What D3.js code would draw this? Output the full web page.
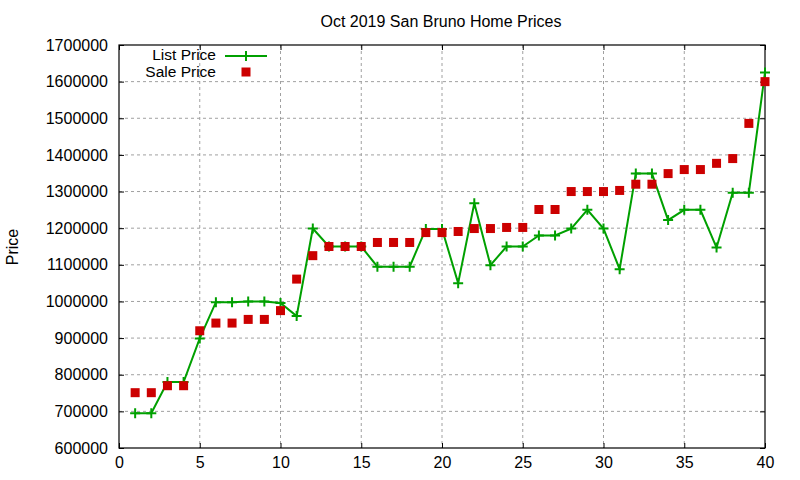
<!DOCTYPE html>
<html>
<head>
<meta charset="utf-8">
<script src="https://cdn.jsdelivr.net/npm/d3@7"></script>
<style>
  body { margin: 0; background: #fff; }
  svg text { font-family: "Liberation Sans", Arial, sans-serif; fill: #000; }
</style>
</head>
<body>
<div id="chart"></div>
<script>
const listColor = '#00a000';
const saleColor = '#cc0000';

// home index 1..40
const homeIndex = d3.range(1, 41);
const listPrice = [
    695000, 695000, 780000, 780000, 899000, 998000, 998000, 1000000, 1000000, 996000,
    960000, 1199000, 1150000, 1150000, 1150000, 1095000, 1095000, 1095000, 1198000, 1198000,
    1050000, 1268000, 1099000, 1150000, 1150000, 1180000, 1180000, 1199000, 1250000, 1199000,
    1088000, 1349000, 1349000, 1222000, 1250000, 1250000, 1147000, 1297000, 1297000, 1625000
];
const salePrice = [
    751000, 751000, 770000, 770000, 920000, 941000, 941000, 951000, 951000, 975000,
    1061000, 1125000, 1150000, 1150000, 1150000, 1161000, 1161000, 1161000, 1188000, 1188000,
    1191000, 1199000, 1199000, 1202000, 1202000, 1251000, 1251000, 1300000, 1300000, 1300000,
    1303000, 1320000, 1320000, 1349000, 1360000, 1360000, 1377000, 1390000, 1486000, 1600000
];
const xTicks = [0, 5, 10, 15, 20, 25, 30, 35, 40];
const yTicks = d3.range(600000, 1700001, 100000);

function drawChart() {
    const W = 800, H = 480;
    const margin = {top: 45, right: 35, bottom: 32, left: 119};
    const width = W - margin.left - margin.right;
    const height = H - margin.top - margin.bottom;
    const fs = 16;

    const svg = d3.select('#chart').append('svg')
        .attr('width', W)
        .attr('height', H);
    const g = svg.append('g')
        .attr('transform', `translate(${margin.left}, ${margin.top})`);

    const x = d3.scaleLinear().domain([0, 40]).range([0, width]);
    const y = d3.scaleLinear().domain([600000, 1700000]).range([height, 0]);

    // grid
    g.append('g').selectAll('line')
        .data(xTicks.slice(1, -1))
        .join('line')
        .attr('x1', d => x(d)).attr('x2', d => x(d))
        .attr('y1', 0).attr('y2', height)
        .attr('stroke', '#a0a0a0').attr('stroke-dasharray', '3,3');
    g.append('g').selectAll('line')
        .data(yTicks.slice(1, -1))
        .join('line')
        .attr('x1', 0).attr('x2', width)
        .attr('y1', d => y(d)).attr('y2', d => y(d))
        .attr('stroke', '#a0a0a0').attr('stroke-dasharray', '3,3');

    // axes, gnuplot style inward ticks on every side
    const tk = 5;
    g.append('g')
        .attr('transform', `translate(0, ${height})`)
        .call(d3.axisBottom(x).tickValues(xTicks).tickSize(-tk).tickPadding(9).tickSizeOuter(0))
        .call(a => a.select('.domain').remove());
    g.append('g')
        .call(d3.axisTop(x).tickValues(xTicks).tickSize(-tk).tickFormat('').tickSizeOuter(0))
        .call(a => a.select('.domain').remove());
    g.append('g')
        .call(d3.axisLeft(y).tickValues(yTicks).tickSize(-tk).tickPadding(11).tickFormat(d3.format('d')).tickSizeOuter(0))
        .call(a => a.select('.domain').remove());
    g.append('g')
        .attr('transform', `translate(${width}, 0)`)
        .call(d3.axisRight(y).tickValues(yTicks).tickSize(-tk).tickFormat('').tickSizeOuter(0))
        .call(a => a.select('.domain').remove());
    g.selectAll('.tick text').attr('font-size', fs).attr('font-family', '"Liberation Sans", Arial, sans-serif');
    g.selectAll('.tick line').attr('stroke', '#000');

    g.append('rect')
        .attr('width', width).attr('height', height)
        .attr('fill', 'none').attr('stroke', '#000').attr('stroke-width', 1.2);

    // list price line
    const line = d3.line()
        .x((d, i) => x(homeIndex[i]))
        .y(d => y(d));
    g.append('path')
        .datum(listPrice)
        .attr('d', line)
        .attr('fill', 'none')
        .attr('stroke', listColor)
        .attr('stroke-width', 2);

    const pm = 5;
    g.append('g').selectAll('path')
        .data(listPrice)
        .join('path')
        .attr('d', (d, i) => `M${x(homeIndex[i]) - pm},${y(d)}h${2 * pm}M${x(homeIndex[i])},${y(d) - pm}v${2 * pm}`)
        .attr('stroke', listColor)
        .attr('stroke-width', 2);

    // sale price squares
    const sq = 9;
    g.append('g').selectAll('rect')
        .data(salePrice)
        .join('rect')
        .attr('x', (d, i) => x(homeIndex[i]) - sq / 2)
        .attr('y', d => y(d) - sq / 2)
        .attr('width', sq).attr('height', sq)
        .attr('fill', saleColor);

    // title
    svg.append('text')
        .attr('x', 441).attr('y', 27)
        .attr('text-anchor', 'middle')
        .attr('font-size', fs)
        .text('Oct 2019 San Bruno Home Prices');

    // y label
    svg.append('text')
        .attr('transform', 'translate(18, 247) rotate(-90)')
        .attr('text-anchor', 'middle')
        .attr('font-size', fs)
        .text('Price');

    // legend
    const legend = svg.append('g');
    legend.append('text')
        .attr('x', 216).attr('y', 60)
        .attr('text-anchor', 'end')
        .attr('font-size', 15.5)
        .text('List Price');
    legend.append('line')
        .attr('x1', 225).attr('x2', 267).attr('y1', 56).attr('y2', 56)
        .attr('stroke', listColor).attr('stroke-width', 2);
    legend.append('path')
        .attr('d', `M${246 - pm},56h${2 * pm}M246,${56 - pm}v${2 * pm}`)
        .attr('stroke', listColor).attr('stroke-width', 2);
    legend.append('text')
        .attr('x', 216).attr('y', 77)
        .attr('text-anchor', 'end')
        .attr('font-size', 15.5)
        .text('Sale Price');
    legend.append('rect')
        .attr('x', 246 - sq / 2).attr('y', 72 - sq / 2)
        .attr('width', sq).attr('height', sq)
        .attr('fill', saleColor);
}

drawChart();
</script>
</body>
</html>
